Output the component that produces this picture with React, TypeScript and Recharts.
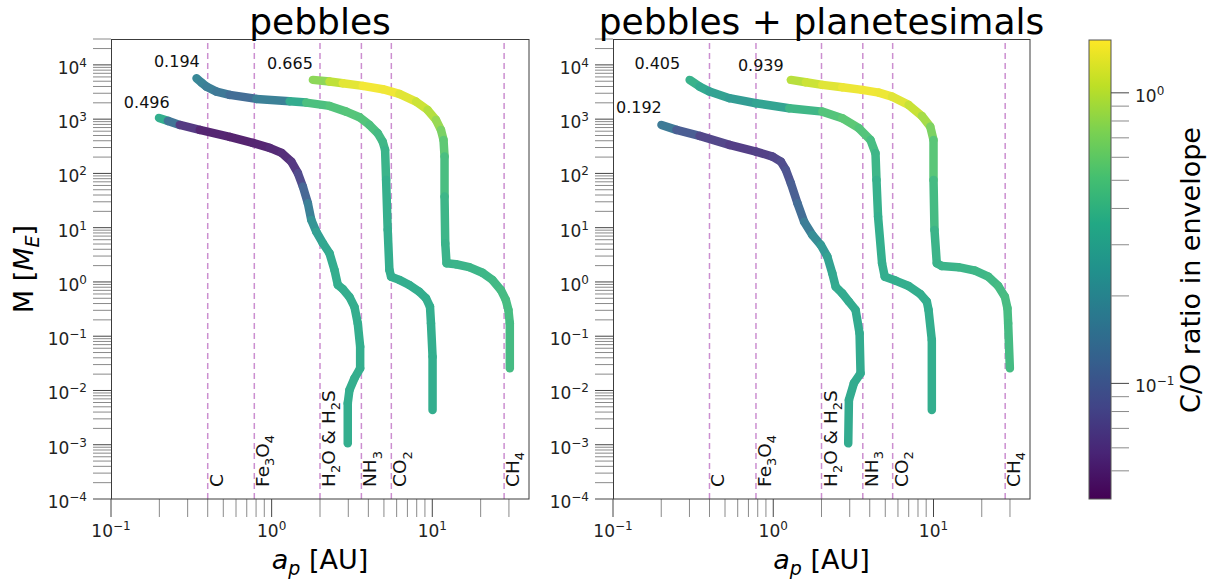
import React from "react";
import { ComposedChart, Line, Scatter, XAxis, YAxis, ReferenceLine } from "recharts";

const FONT = "'DejaVu Sans', sans-serif";

// axes (log-log)
const X_DOMAIN: [number, number] = [0.1, 40];
const Y_DOMAIN: [number, number] = [1e-4, 3e4];
const X_MAJOR = [0.1, 1, 10];
const X_MINOR = [0.2, 0.3, 0.4, 0.5, 0.6, 0.7, 0.8, 0.9, 2, 3, 4, 5, 6, 7, 8, 9, 20, 30];
const Y_MAJOR = [1e-4, 1e-3, 1e-2, 1e-1, 1, 10, 100, 1e3, 1e4];
const Y_SUBS = [2, 3, 4, 5, 6, 7, 8, 9];

// colour bar (C/O ratio, log)
const CO_RANGE: [number, number] = [0.04, 1.52];
const CB_MAJOR = [0.1, 1];
const CB_MINOR = [0.05, 0.06, 0.07, 0.08, 0.09, 0.2, 0.3, 0.4, 0.5, 0.6, 0.7, 0.8, 0.9];

// evaporation fronts [AU]
const ICE_AU = [0.4, 0.78, 2.0, 3.62, 5.56, 28];
const ICE_NAMES = ["C", "Fe_3O_4", "H_2O & H_2S", "NH_3", "CO_2", "CH_4"];

// growth tracks: [a_p (AU), M (M_E), C/O]
type Pt = [number, number, number];

const PEB_INNER: Pt[] = [
  [0.199, 1054, 0.496], [0.226, 929, 0.25], [0.268, 783, 0.075], [0.357, 634, 0.05],
  [0.548, 471, 0.047], [0.762, 365, 0.047], [0.972, 295, 0.05], [1.154, 239, 0.052],
  [1.326, 165, 0.055], [1.457, 101, 0.065], [1.565, 57.1, 0.09], [1.681, 28.2, 0.14],
  [1.765, 13.9, 0.2], [1.895, 8.45, 0.26], [2.083, 5.17, 0.3], [2.292, 3.38, 0.33],
  [2.462, 1.66, 0.35], [2.581, 0.881, 0.35], [2.773, 0.743, 0.35], [3.051, 0.53, 0.35],
  [3.278, 0.346, 0.35], [3.436, 0.173, 0.35], [3.556, 0.0641, 0.35], [3.556, 0.0256, 0.35],
  [3.278, 0.0168, 0.35], [3.051, 0.0102, 0.35], [2.977, 0.00581, 0.35], [2.977, 0.00106, 0.35],
];
const PEB_MID: Pt[] = [
  [0.3405, 5689, 0.194], [0.366, 4718, 0.18], [0.393, 3981, 0.17], [0.4534, 3221, 0.155],
  [0.5483, 2799, 0.14], [0.8035, 2361, 0.11], [1.294, 2143, 0.25], [1.643, 2018, 0.45],
  [2.292, 1754, 0.5], [2.911, 1377, 0.52], [3.52, 1086, 0.52], [4.061, 783, 0.5],
  [4.573, 551, 0.45], [4.912, 385, 0.42], [5.084, 271, 0.4], [5.158, 75.9, 0.37],
  [5.278, 9.1, 0.35], [5.408, 1.66, 0.35], [5.541, 1.25, 0.35], [6.237, 1.09, 0.35],
  [7.195, 0.881, 0.35], [8.303, 0.662, 0.35], [9.14, 0.501, 0.35], [9.676, 0.351, 0.35],
  [9.815, 0.173, 0.35], [10.04, 0.042, 0.35], [10.04, 0.00437, 0.35],
];
const PEB_OUTER: Pt[] = [
  [1.806, 5291, 0.665], [2.292, 4923, 0.9], [2.773, 4600, 1.2], [3.691, 4101, 1.4],
  [4.912, 3566, 1.45], [6.237, 2919, 1.35], [7.92, 2106, 1.2], [9.35, 1481, 1.05],
  [10.54, 969, 0.9], [11.32, 634, 0.75], [11.75, 414, 0.62], [11.92, 204, 0.5],
  [11.92, 37.4, 0.42], [12.04, 5.17, 0.38], [12.27, 2.21, 0.38], [14.04, 2.12, 0.38],
  [16.98, 1.87, 0.39], [20.53, 1.48, 0.4], [23.69, 1.09, 0.41], [26.72, 0.713, 0.43],
  [28.69, 0.466, 0.45], [29.78, 0.305, 0.45], [30.38, 0.173, 0.45], [30.38, 0.0256, 0.43],
];

const PLA_INNER: Pt[] = [
  [0.2006, 783, 0.192], [0.2487, 634, 0.12], [0.347, 491, 0.08], [0.5329, 335, 0.065],
  [0.7809, 252, 0.065], [0.9901, 204, 0.07], [1.116, 165, 0.075], [1.199, 116, 0.08],
  [1.288, 65.9, 0.09], [1.416, 28.2, 0.11], [1.558, 12.9, 0.14], [1.754, 7.35, 0.18],
  [1.979, 4.81, 0.23], [2.175, 2.93, 0.27], [2.335, 1.45, 0.3], [2.451, 0.819, 0.33],
  [2.694, 0.619, 0.33], [2.965, 0.434, 0.33], [3.264, 0.305, 0.33], [3.456, 0.113, 0.33],
  [3.505, 0.0207, 0.33], [3.185, 0.0136, 0.33], [2.965, 0.00668, 0.33], [2.936, 0.00106, 0.33],
];
const PLA_MID: Pt[] = [
  [0.3008, 5291, 0.405], [0.347, 3981, 0.35], [0.4003, 3221, 0.3], [0.5329, 2434, 0.27],
  [0.7809, 1968, 0.25], [1.257, 1592, 0.35], [2.024, 1377, 0.48], [2.694, 1041, 0.55],
  [3.421, 681, 0.55], [4.044, 414, 0.48], [4.344, 236, 0.42], [4.406, 75.9, 0.38],
  [4.508, 16.0, 0.36], [4.773, 2.21, 0.35], [4.962, 1.25, 0.35], [5.783, 1.06, 0.35],
  [6.993, 0.844, 0.35], [8.267, 0.601, 0.35], [9.087, 0.434, 0.35], [9.31, 0.305, 0.35],
  [9.759, 0.0853, 0.35], [9.759, 0.00437, 0.35],
];
const PLA_OUTER: Pt[] = [
  [1.288, 5291, 0.939], [1.597, 4798, 1.05], [2.024, 4278, 1.2], [2.694, 3880, 1.35],
  [3.587, 3459, 1.4], [4.554, 3085, 1.4], [5.508, 2604, 1.35], [6.993, 1831, 1.2],
  [8.457, 1148, 1.0], [9.539, 729, 0.8], [10.0, 414, 0.6], [10.0, 75.9, 0.48],
  [10.14, 9.1, 0.4], [10.48, 2.21, 0.38], [11.26, 1.97, 0.38], [14.3, 1.87, 0.39],
  [18.16, 1.62, 0.4], [21.96, 1.25, 0.41], [25.33, 0.844, 0.43], [27.88, 0.536, 0.45],
  [28.93, 0.327, 0.45], [29.22, 0.173, 0.45], [29.95, 0.0256, 0.43],
];

// final C/O annotations: [a_p, M, text]
const PEB_NOTES: [number, number, string][] = [
  [0.257, 11350, "0.194"], [0.167, 2036, "0.496"], [1.3, 10660, "0.665"],
];
const PLA_NOTES: [number, number, string][] = [
  [0.189, 10660, "0.405"], [0.145, 1648, "0.192"], [0.836, 9590, "0.939"],
];

const VIRIDIS = [
  "#440154", "#482475", "#414487", "#355f8d", "#2a788e", "#21918c",
  "#22a884", "#44bf70", "#7ad151", "#bddf26", "#fde725",
];

function hexRgb(h: string) {
  return [1, 3, 5].map((i) => parseInt(h.slice(i, i + 2), 16));
}

function viridis(t: number, fade = 0) {
  const c = Math.max(0, Math.min(1, t)) * 10;
  const i = Math.min(9, Math.floor(c));
  const f = c - i;
  const a = hexRgb(VIRIDIS[i]);
  const b = hexRgb(VIRIDIS[i + 1]);
  const rgb = a.map((v, k) => {
    const m = v + (b[k] - v) * f;
    return Math.round(m + (255 - m) * fade);
  });
  return `rgb(${rgb.join(",")})`;
}

const LMIN = Math.log10(CO_RANGE[0]);
const LMAX = Math.log10(CO_RANGE[1]);
const coColor = (co: number) => viridis((Math.log10(co) - LMIN) / (LMAX - LMIN), 0.08);

const expText = (v: number) => {
  const e = Math.round(Math.log10(v));
  return e < 0 ? `\u2212${-e}` : `${e}`;
};

function XTick(props: any) {
  const { x, y, payload } = props;
  const major = X_MAJOR.includes(payload.value);
  return (
    <g>
      <line x1={x} x2={x} y1={y} y2={y + 18} stroke={major ? "#444" : "#8a8a8a"} />
      {major && (
        <text x={x} y={y + 38} textAnchor="middle" fontSize={17} fontFamily={FONT} fill="#222">
          10<tspan dy={-7} fontSize={12}>{expText(payload.value)}</tspan>
        </text>
      )}
    </g>
  );
}

function YTick(props: any) {
  const { x, y, payload } = props;
  const major = Y_MAJOR.includes(payload.value);
  return (
    <g>
      <line x1={x - 18} x2={x} y1={y} y2={y} stroke={major ? "#444" : "#8a8a8a"} />
      {major && (
        <text x={x - 24} y={y + 9} textAnchor="end" fontSize={17} fontFamily={FONT} fill="#222">
          10<tspan dy={-7} fontSize={12}>{expText(payload.value)}</tspan>
        </text>
      )}
    </g>
  );
}

// "_x" -> subscript x
function rich(s: string, size: number) {
  const parts: { t: string; sub: boolean }[] = [];
  for (let i = 0; i < s.length; i++) {
    if (s[i] === "_") {
      parts.push({ t: s[i + 1], sub: true });
      i++;
    } else {
      const last = parts[parts.length - 1];
      if (last && !last.sub) last.t += s[i];
      else parts.push({ t: s[i], sub: false });
    }
  }
  const d = size * 0.28;
  let prev = false;
  return parts.map((p, i) => {
    const dy = p.sub === prev ? 0 : p.sub ? d : -d;
    prev = p.sub;
    return (
      <tspan key={i} dy={dy} fontSize={p.sub ? size * 0.7 : size}>{p.t}</tspan>
    );
  });
}

function IceLabel(props: any) {
  const { viewBox, name } = props;
  if (!viewBox) return null;
  const bx = viewBox.x + 15;
  const by = viewBox.y + viewBox.height - 12;
  return (
    <text transform={`translate(${bx},${by}) rotate(-90)`} fontFamily={FONT} fill="#111" fontSize={18.5}>
      {rich(name, 18.5)}
    </text>
  );
}

function NoteShape(props: any) {
  const { cx, cy, payload } = props;
  return (
    <text x={cx} y={cy} textAnchor="middle" dominantBaseline="central" fontSize={16} fontFamily={FONT} fill="#111">
      {payload.text}
    </text>
  );
}

function segments(curve: Pt[], key: string) {
  return curve.slice(1).map((p, i) => {
    const q = curve[i];
    return (
      <Line
        key={`${key}-${i}`}
        data={[{ a: q[0], m: q[1] }, { a: p[0], m: p[1] }]}
        dataKey="m"
        type="linear"
        stroke={coColor(Math.sqrt(q[2] * p[2]))}
        strokeWidth={8.5}
        strokeLinecap="round"
        dot={false}
        activeDot={false}
        isAnimationActive={false}
      />
    );
  });
}

const Y_TICKS = [
  ...Y_MAJOR,
  ...Y_MAJOR.flatMap((d) => Y_SUBS.map((k) => k * d)).filter((v) => v <= Y_DOMAIN[1]),
];
const X_TICKS = [...X_MAJOR, ...X_MINOR];

function Panel({ left, width, curves, notes }: { left: number; width: number; curves: Pt[][]; notes: [number, number, string][] }) {
  return (
    <div style={{ position: "absolute", left, top: 0 }}>
      <ComposedChart width={width} height={585} margin={{ top: 39, right: 11, bottom: 0, left: 0 }}>
        <XAxis
          dataKey="a" type="number" scale="log" domain={X_DOMAIN} allowDataOverflow
          ticks={X_TICKS} interval={0} tick={<XTick />} tickSize={0} tickMargin={0}
          axisLine={false} tickLine={false} height={86}
        />
        <YAxis
          dataKey="m" type="number" scale="log" domain={Y_DOMAIN} allowDataOverflow
          ticks={Y_TICKS} interval={0} tick={<YTick />} tickSize={0} tickMargin={0}
          axisLine={false} tickLine={false} width={111}
        />
        {ICE_AU.map((a, i) => (
          <ReferenceLine
            key={a} x={a} stroke="#cc8fd0" strokeWidth={1.5} strokeDasharray="6 4"
            label={<IceLabel name={ICE_NAMES[i]} />}
          />
        ))}
        {curves.flatMap((c, i) => segments(c, `c${i}`))}
        <Scatter
          data={notes.map(([a, m, text]) => ({ a, m, text }))}
          shape={<NoteShape />}
          isAnimationActive={false}
        />
      </ComposedChart>
    </div>
  );
}

const CB = { x: 1089, w: 22, top: 40, bottom: 499 };
const cbY = (v: number) => CB.top + ((LMAX - Math.log10(v)) / (LMAX - LMIN)) * (CB.bottom - CB.top);

export default function App() {
  return (
    <div style={{ position: "absolute", left: 0, top: 0, width: 1220, height: 585, background: "#fff", overflow: "hidden" }}>
      <Panel left={0} width={540} curves={[PEB_INNER, PEB_MID, PEB_OUTER]} notes={PEB_NOTES} />
      <Panel left={502} width={539} curves={[PLA_INNER, PLA_MID, PLA_OUTER]} notes={PLA_NOTES} />
      <svg width={1220} height={585} style={{ position: "absolute", left: 0, top: 0, pointerEvents: "none" }} fontFamily={FONT}>
        <defs>
          <linearGradient id="vir" x1="0" y1="1" x2="0" y2="0">
            {VIRIDIS.map((c, i) => (
              <stop key={i} offset={i / 10} stopColor={c} />
            ))}
          </linearGradient>
        </defs>
        {/* frames */}
        <rect x={111.5} y={39.5} width={417.5} height={459.5} fill="none" stroke="#3c3c3c" />
        <rect x={613.5} y={39.5} width={416.5} height={459.5} fill="none" stroke="#3c3c3c" />

        {/* titles */}
        <text x={320} y={34} textAnchor="middle" fontSize={36} fill="#000">pebbles</text>
        <text x={821.5} y={34} textAnchor="middle" fontSize={36} fill="#000">pebbles + planetesimals</text>

        {/* x labels */}
        {[320, 821.5].map((cx) => (
          <text key={cx} x={cx} y={569} textAnchor="middle" fontSize={27} fill="#000">
            <tspan fontStyle="italic">a</tspan>
            <tspan fontStyle="italic" fontSize={19} dy={6}>p</tspan>
            <tspan dy={-6}> [AU]</tspan>
          </text>
        ))}

        {/* y label */}
        <text transform="translate(33,269) rotate(-90)" textAnchor="middle" fontSize={27} fill="#000">
          <tspan>M [</tspan>
          <tspan fontStyle="italic">M</tspan>
          <tspan fontStyle="italic" fontSize={19} dy={6}>E</tspan>
          <tspan dy={-6}>]</tspan>
        </text>

        {/* colour bar */}
        <rect x={CB.x} y={CB.top} width={CB.w} height={CB.bottom - CB.top} fill="url(#vir)" stroke="#555" strokeWidth={1} />
        {[...CB_MAJOR, ...CB_MINOR].map((v) => (
          <line key={v} x1={CB.x + CB.w} x2={CB.x + CB.w + 18} y1={cbY(v)} y2={cbY(v)}
            stroke={CB_MAJOR.includes(v) ? "#444" : "#8a8a8a"} />
        ))}
        {CB_MAJOR.map((v) => (
          <text key={v} x={CB.x + CB.w + 24} y={cbY(v) + 9} fontSize={17} fill="#222">
            10<tspan dy={-7} fontSize={12}>{expText(v)}</tspan>
          </text>
        ))}
        <text transform="translate(1200,270) rotate(-90)" textAnchor="middle" fontSize={27} fill="#000">
          C/O ratio in envelope
        </text>
      </svg>
    </div>
  );
}
